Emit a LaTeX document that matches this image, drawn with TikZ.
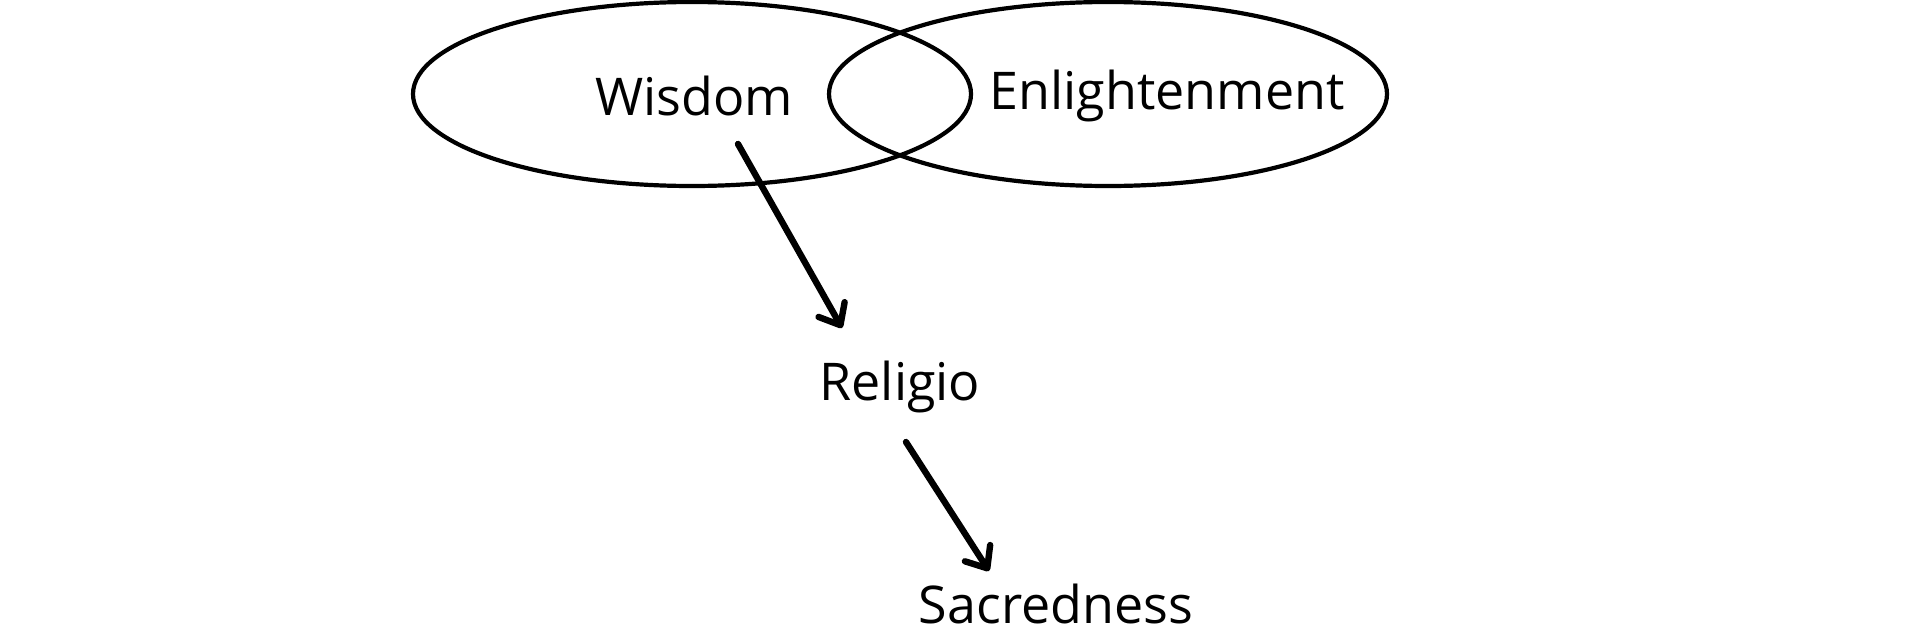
\documentclass[tikz,border=0pt]{standalone}
\usepackage{fontspec}
\setmainfont{Open Sans}
\usetikzlibrary{arrows.meta}
\begin{document}
\begin{tikzpicture}[x=0.5pt,y=-0.5pt,
  lbl/.style={font=\fontsize{26pt}{29pt}\selectfont, inner sep=0pt},
  ell/.style={draw, line width=2.1pt},
  arr/.style={line width=3.2pt, line cap=round, -{Straight Barb[length=9pt,width=15pt,line width=3.2pt,round]}}]
\useasboundingbox (0,0) rectangle (1920,637);
\draw[ell] (692,94) ellipse [x radius=279, y radius=92];
\draw[ell] (1108,94) ellipse [x radius=279, y radius=92];
\node[lbl] (w) at (694,96) {Wisdom};
\node[lbl] (e) at (1167,96) {Enlightenment};
\node[lbl] (r) at (900,387) {Religio};
\node[lbl] (s) at (1056,604) {Sacredness};
\coordinate (a1s) at (738,144);
\coordinate (a1e) at (842,328);
\coordinate (a2s) at (906,442);
\coordinate (a2e) at (989,571);
\draw[arr] (a1s) -- (a1e);
\draw[arr] (a2s) -- (a2e);
\end{tikzpicture}
\end{document}
